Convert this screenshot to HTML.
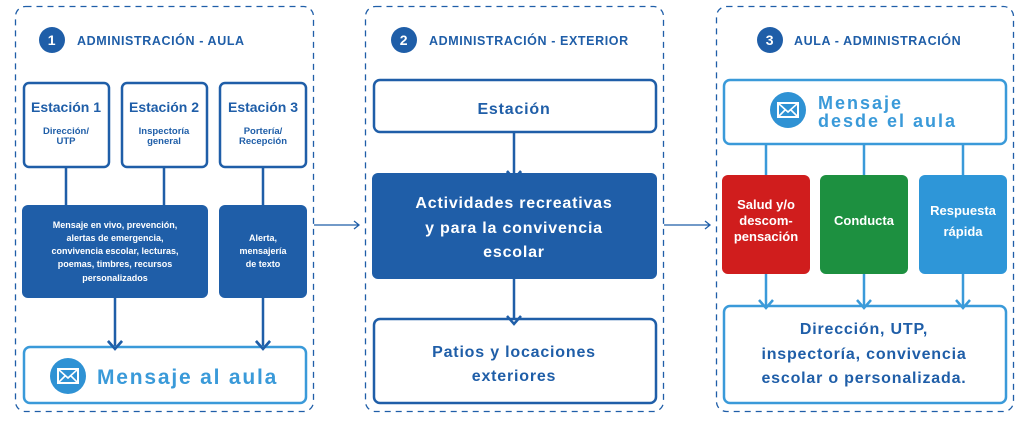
<!DOCTYPE html>
<html><head><meta charset="utf-8"><style>
html,body{margin:0;padding:0;background:#fff;}
svg{display:block;font-family:"Liberation Sans",sans-serif;font-weight:bold;}
</style></head><body>
<svg width="1024" height="425" viewBox="0 0 1024 425" xmlns="http://www.w3.org/2000/svg">
<defs>
<g id="env"><rect x="-10" y="-7" width="20" height="14" fill="none" stroke="#fff" stroke-width="2"/><path d="M-10 -7 L0 2 L10 -7 M-10 7 L-3 0 M10 7 L3 0" fill="none" stroke="#fff" stroke-width="1.6"/></g>
</defs>
<g fill="none" stroke="#1f5ea8" stroke-width="1.3" stroke-dasharray="6,5">
<rect x="15.5" y="6.5" width="298" height="405" rx="10"/>
<rect x="365.5" y="6.5" width="298" height="405" rx="10"/>
<rect x="716.5" y="6.5" width="297" height="405" rx="10"/>
</g>
<!-- inter-panel arrows -->
<g stroke="#1f5ea8" stroke-width="1.3" fill="none">
<path d="M314 225 H359 M354 221 L359 225 L354 229"/>
<path d="M664 225 H710 M705 221 L710 225 L705 229"/>
</g>
<!-- titles -->
<g font-size="12.5" fill="#1f5ea8" letter-spacing="0.6">
<circle cx="52" cy="40" r="13" fill="#1f5ea8"/><text x="52" y="45" fill="#fff" text-anchor="middle" font-size="14">1</text>
<text x="77" y="45">ADMINISTRACIÓN - AULA</text>
<circle cx="404" cy="40" r="13" fill="#1f5ea8"/><text x="404" y="45" fill="#fff" text-anchor="middle" font-size="14">2</text>
<text x="429" y="45">ADMINISTRACIÓN - EXTERIOR</text>
<circle cx="770" cy="40" r="13" fill="#1f5ea8"/><text x="770" y="45" fill="#fff" text-anchor="middle" font-size="14">3</text>
<text x="794" y="45">AULA - ADMINISTRACIÓN</text>
</g>
<!-- Panel 1 -->
<g stroke="#1f5ea8" stroke-width="2.5" fill="#fff">
<rect x="24" y="83" width="85" height="84" rx="5"/>
<rect x="122" y="83" width="85" height="84" rx="5"/>
<rect x="220" y="83" width="86" height="84" rx="5"/>
<path d="M66 167 V205 M164 167 V205 M263 167 V205 M115 298 V348 M263 298 V348" fill="none"/>
<path d="M108 341 L115 349 L122 341 M256 341 L263 349 L270 341" fill="none"/>
</g>
<rect x="22" y="205" width="186" height="93" rx="6" fill="#1f5ea8"/>
<rect x="219" y="205" width="88" height="93" rx="6" fill="#1f5ea8"/>
<g fill="#1f5ea8" text-anchor="middle">
<text x="66" y="112" font-size="14">Estación 1</text>
<text x="164" y="112" font-size="14">Estación 2</text>
<text x="263" y="112" font-size="14">Estación 3</text>
<g font-size="9.5"><text x="66" y="134">Dirección/</text><text x="66" y="144">UTP</text>
<text x="164" y="134">Inspectoría</text><text x="164" y="144">general</text>
<text x="263" y="134">Portería/</text><text x="263" y="144">Recepción</text></g>
</g>
<g fill="#fff" text-anchor="middle" font-size="9">
<text x="115" y="228">Mensaje en vivo, prevención,</text>
<text x="115" y="241">alertas de emergencia,</text>
<text x="115" y="254">convivencia escolar, lecturas,</text>
<text x="115" y="267">poemas, timbres, recursos</text>
<text x="115" y="281">personalizados</text>
<text x="263" y="241">Alerta,</text>
<text x="263" y="254">mensajería</text>
<text x="263" y="267">de texto</text>
</g>
<rect x="24" y="347" width="282" height="56" rx="6" fill="#fff" stroke="#3a9ad9" stroke-width="2.5"/>
<path d="M108 341 L115 349 L122 341 M256 341 L263 349 L270 341" fill="none" stroke="#1f5ea8" stroke-width="2.5"/>
<circle cx="68" cy="376" r="18" fill="#2f92d4"/><use href="#env" x="68" y="376"/>
<text x="97" y="384" font-size="21" fill="#3a9ad9" letter-spacing="1.8">Mensaje al aula</text>
<!-- Panel 2 -->
<g stroke="#1f5ea8" stroke-width="2.5" fill="none">
<rect x="374" y="80" width="282" height="52" rx="6" fill="#fff"/>
<path d="M514 132 V180 M514 279 V324 M507 172 L514 180 L521 172"/>
</g>
<rect x="372" y="173" width="285" height="106" rx="6" fill="#1f5ea8"/>
<rect x="374" y="319" width="282" height="84" rx="6" fill="#fff" stroke="#1f5ea8" stroke-width="2.5"/>
<path d="M507 171 L514 179 L521 171 M507 316 L514 324 L521 316" fill="none" stroke="#1f5ea8" stroke-width="2.5"/>
<g text-anchor="middle" letter-spacing="0.8">
<text x="514" y="114" font-size="16" fill="#1f5ea8">Estación</text>
<g fill="#fff" font-size="16"><text x="514" y="208">Actividades recreativas</text><text x="514" y="233">y para la convivencia</text><text x="514" y="257">escolar</text></g>
<g fill="#1f5ea8" font-size="16"><text x="514" y="357">Patios y locaciones</text><text x="514" y="381">exteriores</text></g>
</g>
<!-- Panel 3 -->
<g stroke="#3a9ad9" stroke-width="2.5" fill="none">
<rect x="724" y="80" width="282" height="64" rx="6" fill="#fff"/>
<path d="M766 144 V176 M864 144 V176 M963 144 V176 M766 273 V310 M864 273 V310 M963 273 V310"/>
</g>
<rect x="722" y="175" width="88" height="99" rx="6" fill="#d01d1d"/>
<rect x="820" y="175" width="88" height="99" rx="6" fill="#1d9040"/>
<rect x="919" y="175" width="88" height="99" rx="6" fill="#2e96d8"/>
<rect x="724" y="306" width="282" height="97" rx="6" fill="#fff" stroke="#3a9ad9" stroke-width="2.5"/>
<path d="M759 300 L766 308 L773 300 M857 300 L864 308 L871 300 M956 300 L963 308 L970 300" fill="none" stroke="#3a9ad9" stroke-width="2.5"/>
<circle cx="788" cy="110" r="18" fill="#2f92d4"/><use href="#env" x="788" y="110"/>
<g fill="#3a9ad9" font-size="18" letter-spacing="2"><text x="818" y="109">Mensaje</text><text x="818" y="127">desde el aula</text></g>
<g fill="#fff" text-anchor="middle" font-size="13">
<text x="766" y="209">Salud y/o</text><text x="766" y="225">descom-</text><text x="766" y="241">pensación</text>
<text x="864" y="225">Conducta</text>
<text x="963" y="215">Respuesta</text><text x="963" y="236">rápida</text>
</g>
<g fill="#1f5ea8" text-anchor="middle" font-size="16" letter-spacing="0.8">
<text x="864" y="334">Dirección, UTP,</text>
<text x="864" y="359">inspectoría, convivencia</text>
<text x="864" y="383">escolar o personalizada.</text>
</g>
</svg>
</body></html>
